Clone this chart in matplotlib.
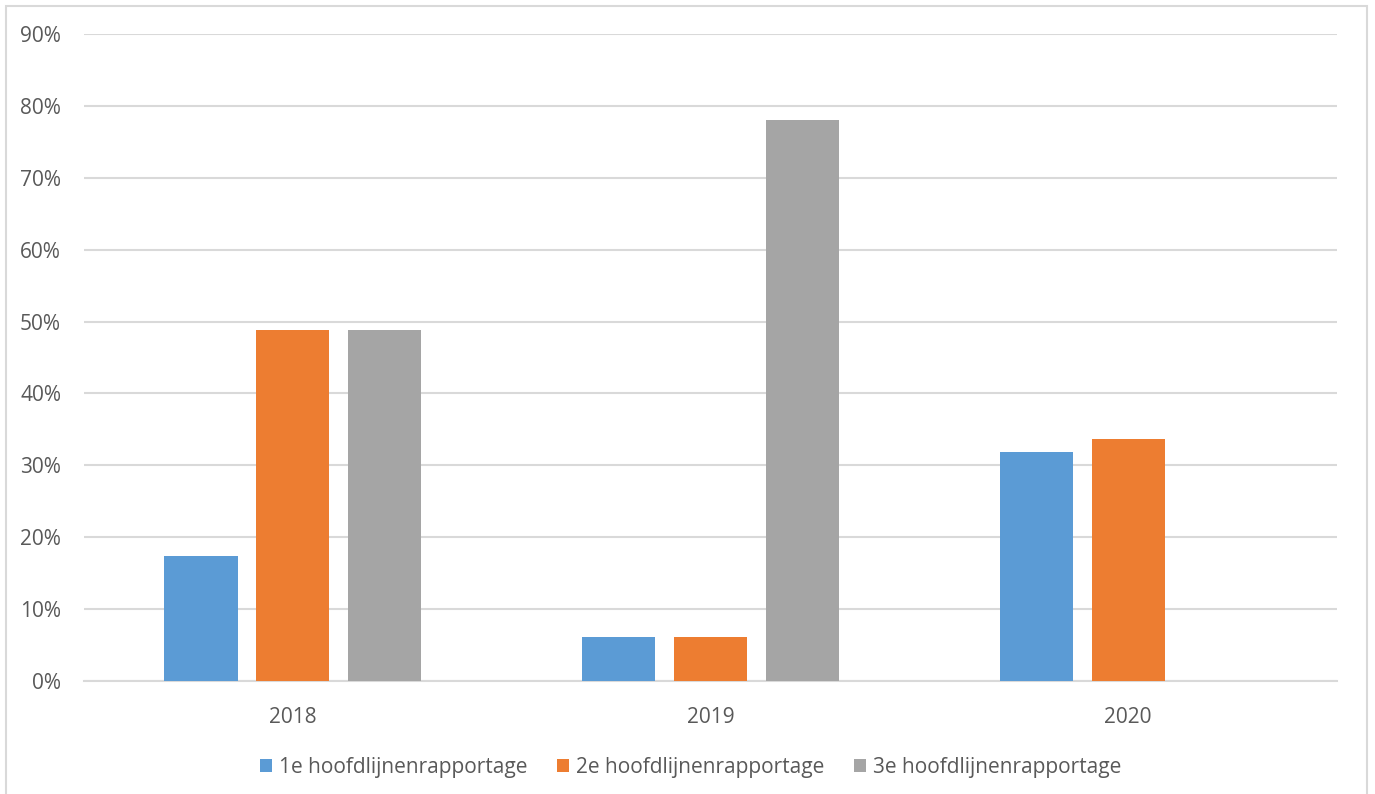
import numpy as np
import matplotlib.pyplot as plt
from matplotlib.patches import Rectangle

# Gegevens uit de grafiek
jaren = ['2018', '2019', '2020']
reeksen = ['1e hoofdlijnenrapportage', '2e hoofdlijnenrapportage', '3e hoofdlijnenrapportage']
eerste = [0.174, 0.061, 0.318]
tweede = [0.488, 0.061, 0.337]
derde = [0.488, 0.780, 0.0]
kleuren = ['#5b9bd5', '#ed7d31', '#a5a5a5']

plt.rcParams['font.family'] = ['Open Sans', 'DejaVu Sans']
tekstkleur = '#595959'

fig = plt.figure(figsize=(13.75, 7.94), dpi=100)
ax = fig.add_axes([0.0611, 0.1423, 0.9113, 0.8149])

x = np.arange(len(jaren))
breedte = 0.175
afstand = 0.22
for i, (waarden, naam) in enumerate(zip([eerste, tweede, derde], reeksen)):
    ax.bar(x + (i - 1) * afstand, waarden, breedte, color=kleuren[i], label=naam, zorder=3)

ax.set_xlim(-0.5, 2.5)
ax.set_ylim(0, 0.9)
ax.set_yticks(np.arange(0, 0.91, 0.1))
ax.set_yticklabels([f'{int(round(v * 100))}%' for v in np.arange(0, 0.91, 0.1)])
ax.set_xticks(x)
ax.set_xticklabels(jaren)
ax.grid(axis='y', color='#d9d9d9', linewidth=1.5, zorder=0)
for s in ['top', 'right', 'left']:
    ax.spines[s].set_visible(False)
ax.spines['bottom'].set_color('#d9d9d9')
ax.spines['bottom'].set_linewidth(1.5)
ax.tick_params(axis='both', length=0, labelsize=15, colors=tekstkleur)
ax.tick_params(axis='y', pad=16.5)
ax.tick_params(axis='x', pad=19)

leg = ax.legend(loc='center', bbox_to_anchor=(0.484, -0.134), ncol=3, frameon=False,
                fontsize=15, handlelength=0.6, handleheight=0.6, handletextpad=0.33,
                columnspacing=1.4)
for t in leg.get_texts():
    t.set_color(tekstkleur)

# lichtgrijze kader rond de grafiek
fig.patches.append(Rectangle((6 / 1375, -0.01), 1361 / 1375, 1 - 6 / 794 + 0.01,
                             transform=fig.transFigure, fill=False,
                             edgecolor='#d9d9d9', linewidth=1.5))

fig.savefig('out.png', dpi=100)
